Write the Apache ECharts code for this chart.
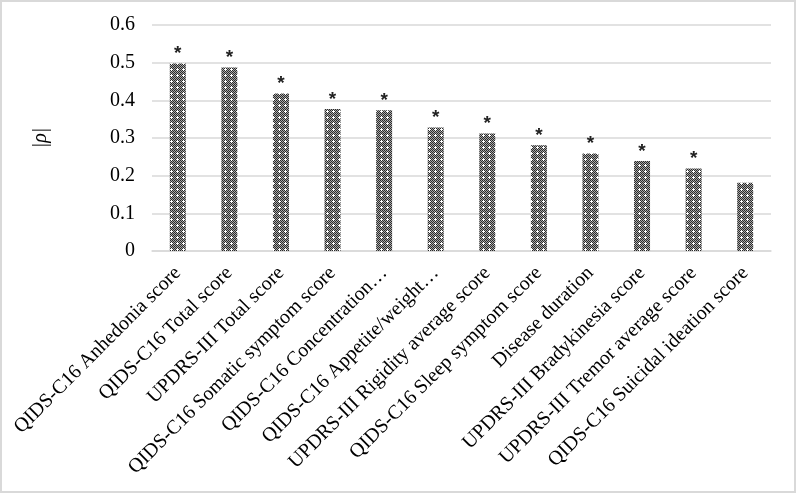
<!DOCTYPE html>
<html>
<head>
<meta charset="utf-8">
<script src="https://cdn.jsdelivr.net/npm/echarts@6/dist/echarts.min.js"></script>
<style>
html,body{margin:0;padding:0;background:#fff;}
#frame{position:absolute;left:0;top:0;width:792px;height:489px;border:2px solid #d9d9d9;}
#chart{position:absolute;left:0;top:0;width:796px;height:493px;}
</style>
</head>
<body>
<div id="frame"></div>
<div id="chart"></div>
<script>
const categories = [
  "QIDS-C16 Anhedonia score",
  "QIDS-C16 Total score",
  "UPDRS-III Total score",
  "QIDS-C16 Somatic symptom score",
  "QIDS-C16 Concentration…",
  "QIDS-C16 Appetite/weight…",
  "UPDRS-III Rigidity average score",
  "QIDS-C16 Sleep symptom score",
  "Disease duration",
  "UPDRS-III Bradykinesia score",
  "UPDRS-III Tremor average score",
  "QIDS-C16 Suicidal ideation score"
];
const rhoValues = [0.498, 0.487, 0.418, 0.377, 0.374, 0.328, 0.312, 0.281, 0.259, 0.239, 0.219, 0.181];
const significance = ["*", "*", "*", "*", "*", "*", "*", "*", "*", "*", "*", ""];
const yTicks = [0, 0.1, 0.2, 0.3, 0.4, 0.5, 0.6];

// checkerboard pattern with white crosses
const pc = document.createElement('canvas');
pc.width = 6; pc.height = 6;
const g = pc.getContext('2d');
g.fillStyle = '#a8a8a8'; g.fillRect(0,0,6,6);
g.fillStyle = '#2a2a2a';
for (let y=0;y<6;y++) for (let x=0;x<6;x++) { if ((x+y)%2===0 && !(x===3 && y===3)) g.fillRect(x,y,1,1); }
g.fillStyle = '#ffffff';
g.fillRect(3,3,1,1); g.fillRect(2,3,1,1); g.fillRect(4,3,1,1); g.fillRect(3,2,1,1); g.fillRect(3,4,1,1);

const chart = echarts.init(document.getElementById('chart'));
chart.setOption({
  animation: false,
  grid: {left: 152, right: 25, top: 25, bottom: 242, containLabel: false},
  xAxis: {
    type: 'category',
    data: categories,
    axisLine: {show: true, lineStyle: {color: '#d9d9d9', width: 1.5}},
    axisTick: {show: false},
    axisLabel: {
      interval: 0, rotate: 45, margin: 19,
      fontFamily: 'Liberation Serif', fontSize: 20, color: '#000'
    }
  },
  yAxis: {
    type: 'value', min: 0, max: 0.6, interval: 0.1,
    name: '|ρ|', nameLocation: 'middle', nameGap: 101, nameRotate: 90,
    nameTextStyle: {fontFamily: 'Liberation Serif', fontSize: 20, color: '#000', fontStyle: 'italic'},
    axisLine: {show: false}, axisTick: {show: false},
    splitLine: {lineStyle: {color: '#d9d9d9', width: 1.5}},
    axisLabel: {
      margin: 17, fontFamily: 'Liberation Serif', fontSize: 20, color: '#000',
      formatter: v => { const t = yTicks.find(x => Math.abs(x - v) < 1e-9); return t === 0 ? '0' : String(t); }
    }
  },
  series: [{
    type: 'bar',
    data: rhoValues,
    barWidth: 16,
    itemStyle: {color: {image: pc, repeat: 'repeat'}},
    label: {
      show: true, position: 'top', distance: 0,
      formatter: p => significance[p.dataIndex],
      fontFamily: 'Liberation Sans', fontSize: 19, fontWeight: 'bold', color: '#222'
    }
  }]
});
</script>
</body>
</html>
